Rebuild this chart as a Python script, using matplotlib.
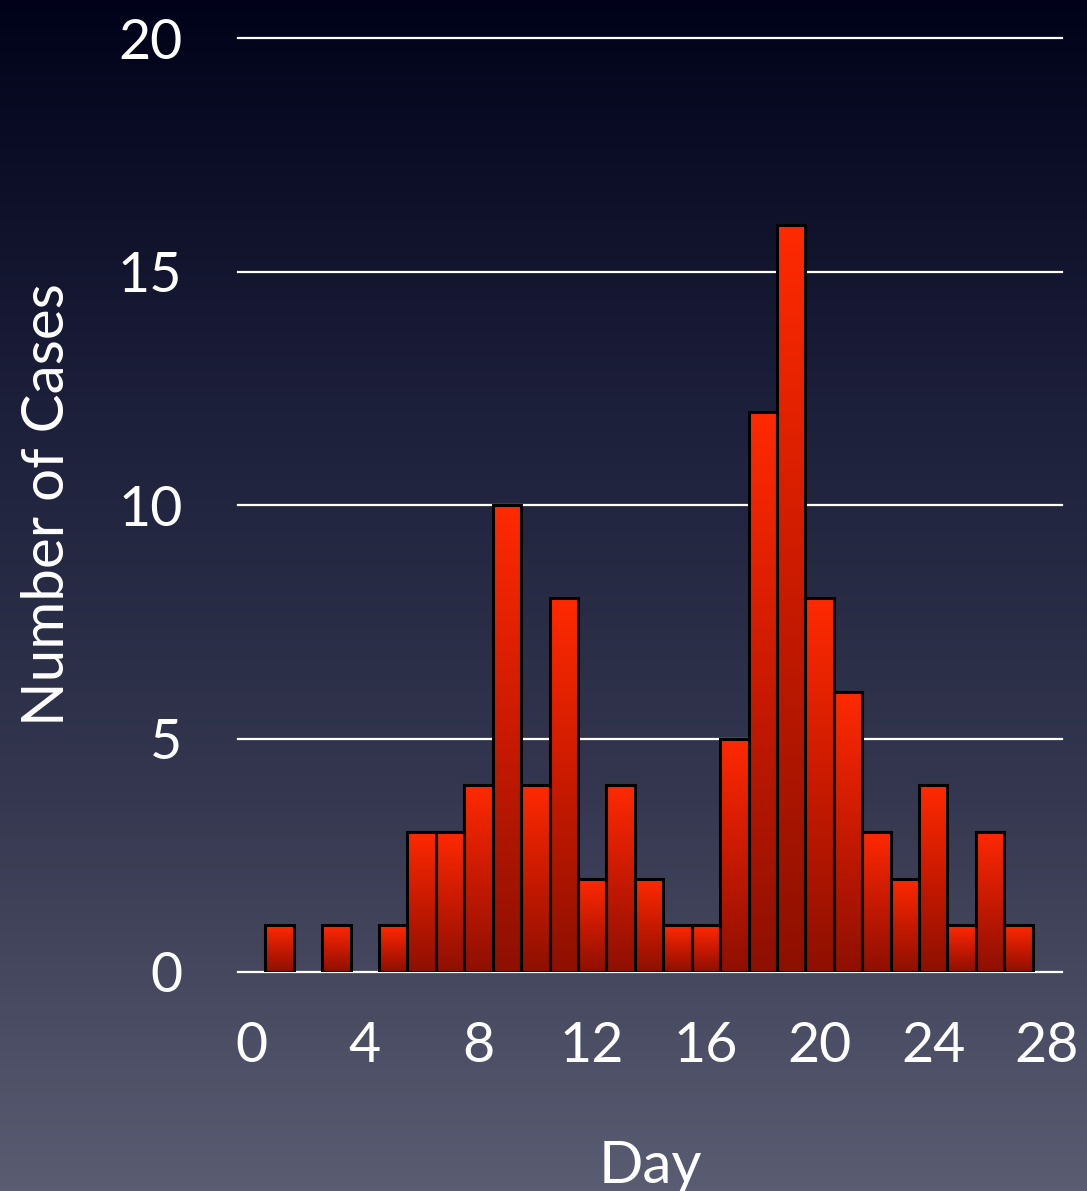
import numpy as np
import matplotlib.pyplot as plt
from matplotlib.colors import LinearSegmentedColormap

# Epidemic curve: cases per day
days = [1, 3, 5, 6, 7, 8, 9, 10, 11, 12, 13, 14, 15, 16, 17, 18, 19, 20, 21, 22, 23, 24, 25, 26, 27]
cases = [1, 1, 1, 3, 3, 4, 10, 4, 8, 2, 4, 2, 1, 1, 5, 12, 16, 8, 6, 3, 2, 4, 1, 3, 1]
x_ticks = [0, 4, 8, 12, 16, 20, 24, 28]
y_ticks = [0, 5, 10, 15, 20]

plt.rcParams['font.family'] = ['Lato', 'DejaVu Sans']

fig = plt.figure(figsize=(10.87, 11.91), dpi=100)

# dark slide-style background gradient
bg = fig.add_axes([0, 0, 1, 1], zorder=-10)
bg_cmap = LinearSegmentedColormap.from_list('bg', ['#01021a', '#1c1f3a', '#34374f', '#5a5c72'])
bg.imshow(np.linspace(0, 1, 256).reshape(-1, 1), cmap=bg_cmap, aspect='auto', extent=[0, 1, 0, 1])
bg.set_axis_off()

ax = fig.add_axes([0.219, 0.1839, 0.758, 0.7841])
ax.set_facecolor('none')

# grid lines
for y in y_ticks:
    ax.axhline(y, color='white', lw=1.6, zorder=1, clip_on=False)

# bars with vertical red gradient
red_cmap = LinearSegmentedColormap.from_list('red', ['#8e1000', '#c81a00', '#ff2a00'])
grad = np.linspace(1, 0, 128).reshape(-1, 1)
width = 1.0
for d, c in zip(days, cases):
    ax.imshow(grad, cmap=red_cmap, aspect='auto', zorder=2,
              extent=[d - width / 2, d + width / 2, 0, c])
ax.bar(days, cases, width=width, fill=False, edgecolor='black', linewidth=2.2, zorder=3)

ax.set_xlim(-0.46, 28.53)
ax.set_ylim(0, 20)
ax.set_aspect('auto')

ax.set_xticks(x_ticks)
ax.set_yticks(y_ticks)
ax.tick_params(axis='both', length=0, labelcolor='white', labelsize=40)
ax.tick_params(axis='x', pad=35)
ax.tick_params(axis='y', pad=40)
for s in ax.spines.values():
    s.set_visible(False)

ax.set_xlabel('Day', color='white', fontsize=42, labelpad=49)
ax.set_ylabel('Number of Cases', color='white', fontsize=42, labelpad=32)

plt.savefig('out.png', dpi=100)
